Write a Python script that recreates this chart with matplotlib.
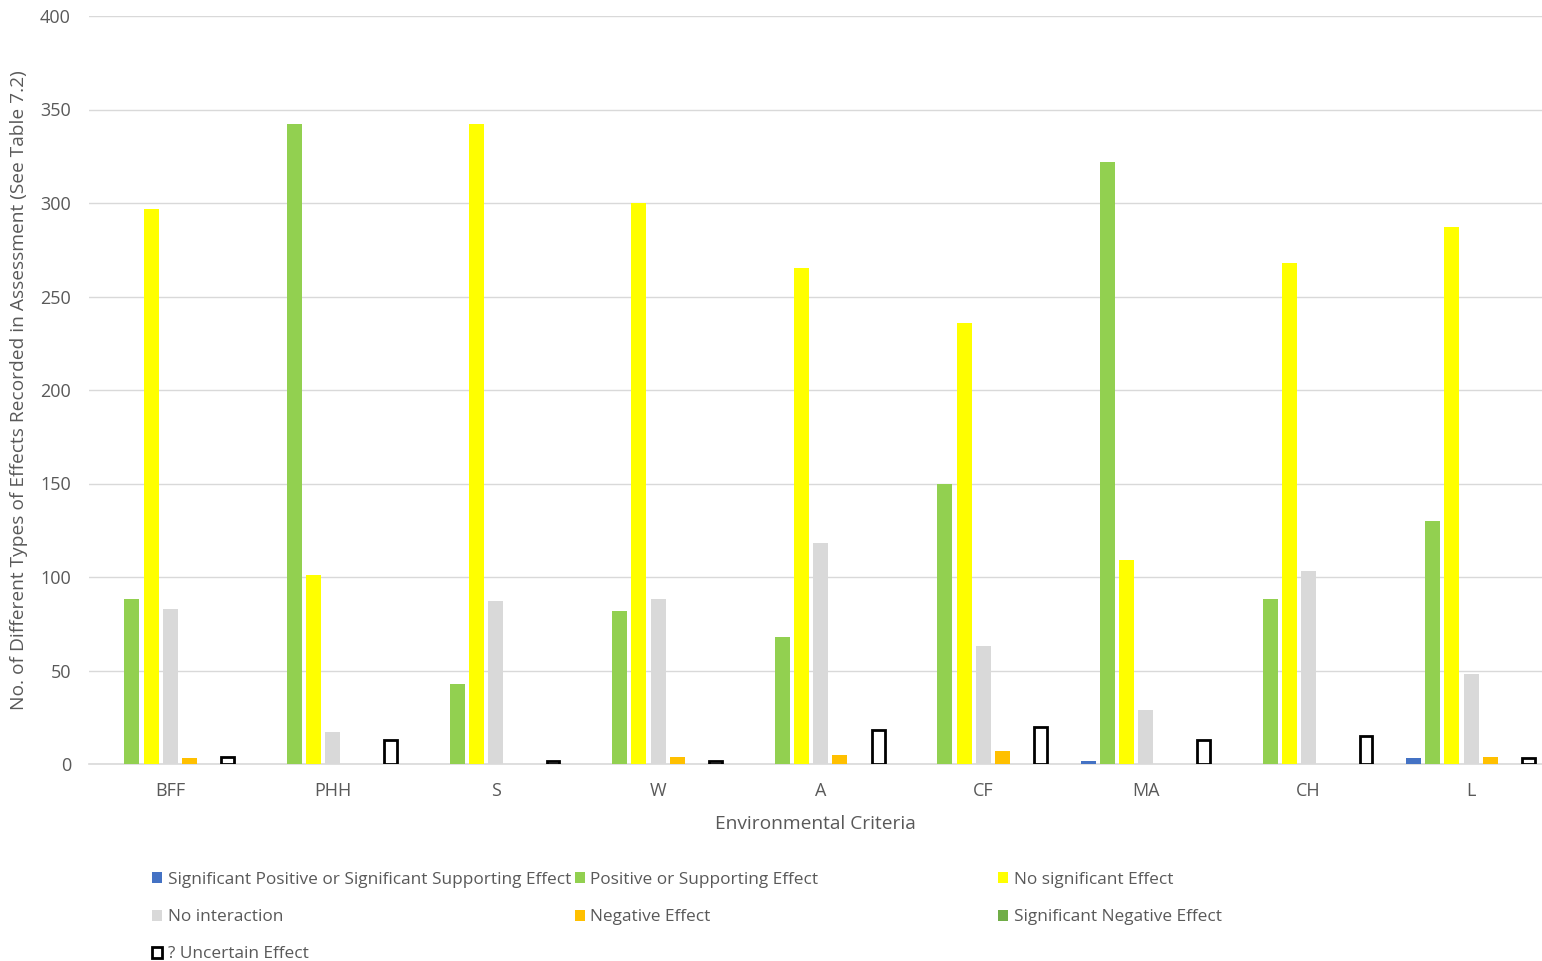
import matplotlib
matplotlib.use("Agg")
import matplotlib.pyplot as plt
import numpy as np

categories = ["BFF", "PHH", "S", "W", "A", "CF", "MA", "CH", "L"]
series_names = [
    "Significant Positive or Significant Supporting Effect",
    "Positive or Supporting Effect",
    "No significant Effect",
    "No interaction",
    "Negative Effect",
    "Significant Negative Effect",
    "? Uncertain Effect",
]
sig_positive = [0, 0, 0, 0, 0, 0, 1.5, 0, 3]
positive = [88, 342, 43, 82, 68, 150, 322, 88, 130]
no_significant = [297, 101, 342, 300, 265, 236, 109, 268, 287]
no_interaction = [83, 17, 87, 88, 118, 63, 29, 103, 48]
negative = [3, 0, 0, 4, 5, 7, 0, 0, 4]
sig_negative = [0, 0, 0, 0, 0, 0, 0, 0, 0]
uncertain = [3.5, 13, 1.5, 1.5, 18, 20, 13, 15, 3]

series_values = [sig_positive, positive, no_significant, no_interaction,
                 negative, sig_negative, uncertain]
face_colors = ["#4472C4", "#92D050", "#FFFF00", "#D9D9D9", "#FFC000", "#70AD47", "#FFFFFF"]
edge_colors = ["none"] * 6 + ["#000000"]

plt.rcParams['font.family'] = ['Open Sans', 'DejaVu Sans']

W, H = 1542, 961
fig = plt.figure(figsize=(W / 100, H / 100), dpi=100)
ax_left, ax_right = 89, 1542
ax_top, ax_bottom = 16, 764
ax = fig.add_axes([ax_left / W, 1 - ax_bottom / H, (ax_right - ax_left) / W, (ax_bottom - ax_top) / H])

x = np.arange(len(categories))
slot = 0.118
bw = 0.093
handles = []
for k, (vals, fc, ec, name) in enumerate(zip(series_values, face_colors, edge_colors, series_names)):
    lw = 2.0 if ec != "none" else 0
    b = ax.bar(x + (k - 3) * slot, vals, width=bw if ec == "none" else bw * 0.85,
               color=fc, edgecolor=ec, linewidth=lw, label=name, zorder=3)
    handles.append(b)

ax.set_ylim(0, 400)
ax.set_yticks(range(0, 401, 50))
ax.set_xlim(-0.5, -0.5 + (ax_right - ax_left) / 162.6)
ax.set_xticks(x)
ax.set_xticklabels(categories)
ax.grid(axis='y', color='#D9D9D9', linewidth=1, zorder=0)
for s in ['top', 'right', 'left']:
    ax.spines[s].set_visible(False)
ax.spines['bottom'].set_color('#D9D9D9')
ax.spines['bottom'].set_linewidth(1.2)
ax.tick_params(axis='both', length=0, colors='#595959', labelsize=13)
ax.tick_params(axis='y', pad=13)
ax.tick_params(axis='x', pad=13)
ax.set_xlabel("Environmental Criteria", fontsize=13.8, color='#595959', labelpad=11)
ax.set_ylabel("No. of Different Types of Effects Recorded in Assessment (See Table 7.2)",
              fontsize=13.8, color='#595959', labelpad=9)

# Legend laid out row-wise in three equal-width columns
col_x = [152, 575, 998]
order_cols = [[0, 3, 6], [1, 4], [2, 5]]
for cx, idxs in zip(col_x, order_cols):
    fig.legend([handles[i] for i in idxs], [series_names[i] for i in idxs],
               loc='upper left', bbox_to_anchor=(cx / W, 1 - 872 / H),
               frameon=False, ncol=1, fontsize=12.4, handlelength=0.6,
               handleheight=0.6, handletextpad=0.3, labelspacing=1.23,
               borderaxespad=0, borderpad=0, labelcolor='#595959')

fig.savefig("out.png", dpi=100)
